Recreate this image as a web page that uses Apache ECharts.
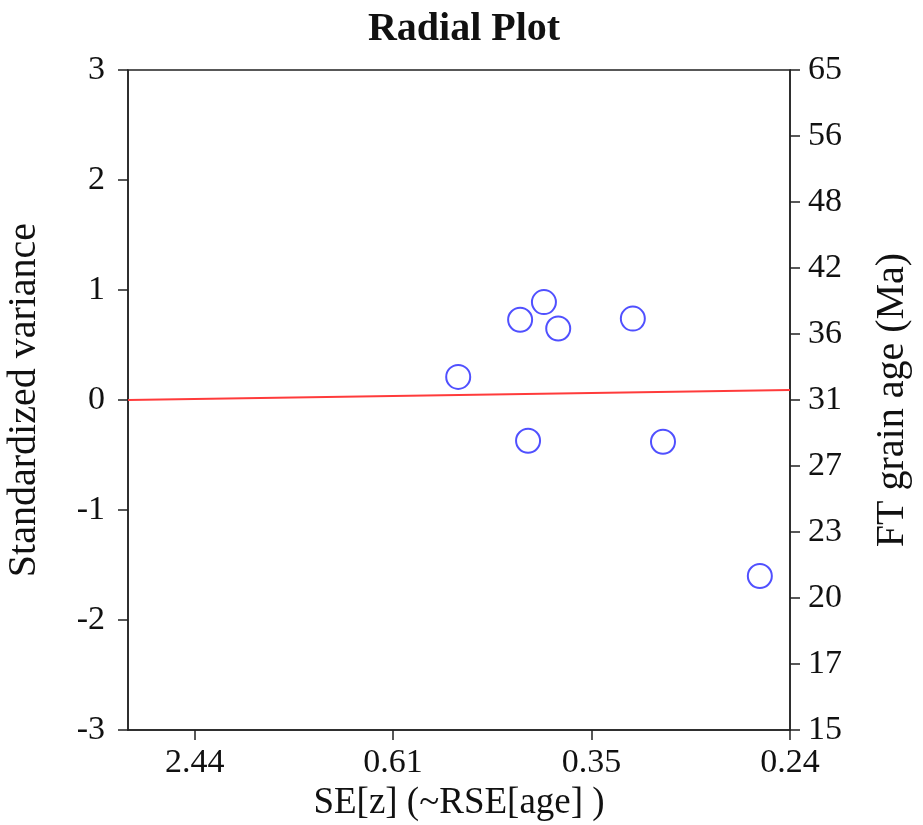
<!DOCTYPE html>
<html>
<head>
<meta charset="utf-8">
<script src="https://cdn.jsdelivr.net/npm/echarts@6/dist/echarts.min.js"></script>
<style>
  html, body { margin: 0; padding: 0; background: #fff; }
  #chart { width: 923px; height: 825px; }
</style>
</head>
<body>
<div id="chart"></div>
<script>
// Grain precision (1/SE[z]) on x, standardized estimate on y
const precision = [2.08, 2.47, 2.62, 2.71, 3.18, 2.52, 3.37, 3.98];
const stdEstimate = [0.21, 0.73, 0.89, 0.65, 0.74, -0.37, -0.38, -1.60];

// Central-age line from the origin to the right edge
const centralLineX = [0, 4.17];
const centralLineY = [0, 0.09];

// Bottom axis: tick positions in precision units and their SE labels
const seTickPos = [0.42, 1.67, 2.92, 4.17];
const seTickLabels = ['2.44', '0.61', '0.35', '0.24'];

// Right axis: FT grain ages shown against the standardized scale
const ageLabels = ['15', '17', '20', '23', '27', '31', '36', '42', '48', '56', '65'];

const FONT = '"Liberation Serif", "DejaVu Serif", serif';
const INK = '#111';
const AXIS = '#222';

const chart = echarts.init(document.getElementById('chart'));

chart.setOption({
  animation: false,
  backgroundColor: '#fff',
  title: {
    text: 'Radial Plot',
    left: 459,
    textAlign: 'center',
    top: 5,
    textStyle: { fontFamily: FONT, fontSize: 40, fontWeight: 'bold', color: INK }
  },
  grid: {
    left: 128, right: 133, top: 70, bottom: 95,
    containLabel: false,
    outerBoundsMode: 'none',
    show: true, borderColor: AXIS, borderWidth: 1.5, backgroundColor: 'transparent'
  },
  xAxis: {
    type: 'value',
    min: 0,
    max: 4.17,
    name: 'SE[z] (~RSE[age] )',
    nameLocation: 'middle',
    nameGap: 54,
    nameTextStyle: { fontFamily: FONT, fontSize: 37, color: INK },
    splitLine: { show: false },
    axisLine: { show: true, onZero: false, lineStyle: { color: AXIS, width: 1.5 } },
    axisTick: { show: true, length: 10, customValues: seTickPos, lineStyle: { color: AXIS, width: 1.5 } },
    axisLabel: {
      customValues: seTickPos,
      margin: 16,
      fontFamily: FONT, fontSize: 34, color: INK,
      formatter: function (v) {
        let best = 0;
        seTickPos.forEach(function (p, i) { if (Math.abs(p - v) < Math.abs(seTickPos[best] - v)) best = i; });
        return seTickLabels[best];
      }
    }
  },
  yAxis: [
    {
      type: 'value',
      min: -3, max: 3, interval: 1,
      position: 'left',
      name: 'Standardized variance',
      nameLocation: 'middle',
      nameRotate: 90,
      nameGap: 84,
      nameTextStyle: { fontFamily: FONT, fontSize: 40, color: INK },
      splitLine: { show: false },
      axisLine: { show: true, onZero: false, lineStyle: { color: AXIS, width: 1.5 } },
      axisTick: { show: true, length: 10, lineStyle: { color: AXIS, width: 1.5 } },
      axisLabel: { margin: 23, fontFamily: FONT, fontSize: 34, color: INK }
    },
    {
      type: 'value',
      min: -3, max: 3, interval: 0.6,
      position: 'right',
      name: 'FT grain age (Ma)',
      nameLocation: 'middle',
      nameRotate: 90,
      nameGap: 82,
      nameTextStyle: { fontFamily: FONT, fontSize: 40, color: INK },
      splitLine: { show: false },
      axisLine: { show: true, onZero: false, lineStyle: { color: AXIS, width: 1.5 } },
      axisTick: { show: true, length: 10, lineStyle: { color: AXIS, width: 1.5 } },
      axisLabel: {
        margin: 18,
        fontFamily: FONT, fontSize: 34, color: INK,
        formatter: function (v) { return ageLabels[Math.round((v + 3) / 0.6)]; }
      }
    }
  ],
  series: [
    {
      type: 'line',
      data: centralLineX.map(function (x, i) { return [x, centralLineY[i]]; }),
      symbol: 'none',
      lineStyle: { color: '#ff3b3b', width: 2 },
      silent: true,
      z: 1
    },
    {
      type: 'scatter',
      data: precision.map(function (x, i) { return [x, stdEstimate[i]]; }),
      symbol: 'circle',
      symbolSize: 24,
      itemStyle: { color: 'rgba(0,0,0,0)', borderColor: '#2424ff', borderWidth: 2 },
      z: 2
    }
  ]
});
</script>
</body>
</html>
